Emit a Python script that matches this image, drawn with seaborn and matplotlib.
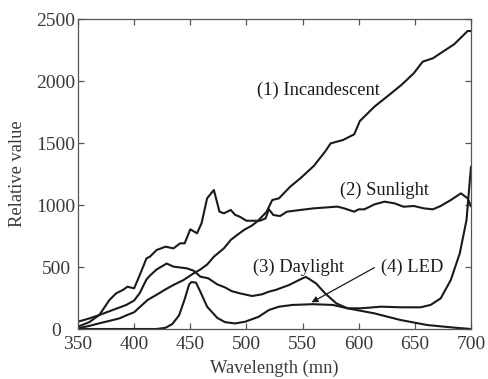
import matplotlib
matplotlib.use("Agg")
import matplotlib.pyplot as plt
import numpy as np
import pandas as pd
import seaborn as sns

# Relative spectral power of four light sources
incandescent_wl = [350, 360, 369, 380, 387, 393, 400, 406, 412, 420, 428, 435, 444, 453, 459,
                   465, 471, 480, 486, 492, 498, 505, 510, 518, 523, 529, 539, 548, 560, 570,
                   575, 586, 596, 601, 614, 627, 638, 649, 657, 666, 675, 685, 697, 700]
incandescent_val = [5, 25, 46, 70, 86, 110, 135, 185, 234, 276, 320, 355, 395, 449, 480,
                    520, 583, 651, 718, 760, 800, 835, 870, 946, 1040, 1054, 1148, 1215, 1315, 1430,
                    1497, 1524, 1570, 1677, 1793, 1887, 1968, 2062, 2156, 2183, 2237, 2296, 2403, 2403]

sunlight_wl = [350, 360, 369, 378, 384, 390, 394, 400, 405, 411, 414, 420, 428, 435, 441,
               445, 450, 456, 460, 465, 471, 476, 480, 486, 490, 494, 500, 512, 517, 520,
               524, 530, 536, 548, 560, 572, 581, 587, 596, 600, 605, 614, 623, 632, 640,
               649, 658, 666, 673, 682, 691, 697, 700]
sunlight_val = [19, 55, 113, 234, 288, 315, 341, 328, 435, 570, 583, 637, 664, 650, 691,
                691, 804, 772, 852, 1054, 1121, 946, 933, 960, 920, 906, 873, 873, 892, 965,
                919, 911, 946, 960, 973, 981, 987, 973, 946, 965, 965, 1005, 1027, 1013, 986,
                992, 973, 965, 992, 1040, 1094, 1054, 990]

daylight_wl = [350, 360, 369, 380, 393, 400, 405, 411, 414, 420, 429, 435, 447, 453, 459,
               466, 474, 481, 487, 494, 505, 514, 520, 526, 538, 550, 553, 562, 570, 580,
               590, 614, 637, 661, 685, 700]
daylight_val = [59, 85, 113, 150, 194, 230, 290, 400, 430, 480, 528, 503, 489, 470, 422,
                409, 360, 335, 305, 288, 266, 280, 301, 315, 355, 409, 420, 368, 288, 207,
                167, 126, 73, 32, 11, 0]

led_wl = [350, 420, 428, 434, 440, 445, 449, 451, 455, 459, 465, 474, 481, 490, 499,
          511, 520, 529, 541, 559, 577, 590, 602, 620, 638, 655, 664, 673, 682, 690,
          696, 700]
led_val = [0, 0, 10, 40, 110, 240, 360, 378, 375, 300, 180, 90, 55, 45, 59,
           99, 153, 180, 194, 200, 194, 167, 167, 180, 175, 175, 194, 247, 395, 610,
           879, 1310]

sources = ["Incandescent", "Sunlight", "Daylight", "LED"]
frames = [
    pd.DataFrame({"wavelength": incandescent_wl, "value": incandescent_val, "source": "Incandescent"}),
    pd.DataFrame({"wavelength": sunlight_wl, "value": sunlight_val, "source": "Sunlight"}),
    pd.DataFrame({"wavelength": daylight_wl, "value": daylight_val, "source": "Daylight"}),
    pd.DataFrame({"wavelength": led_wl, "value": led_val, "source": "LED"}),
]
df = pd.concat(frames, ignore_index=True)

sns.set_style("ticks")
plt.rcParams["font.family"] = ["Liberation Serif", "DejaVu Serif"]

text_color = "#3a3a3a"
frame_color = "#555555"

fig = plt.figure(figsize=(4.89, 3.79), dpi=100)
ax = fig.add_axes([78 / 489, 1 - 329 / 379, (471 - 78) / 489, (329 - 19) / 379])

sns.lineplot(data=df, x="wavelength", y="value", hue="source", hue_order=sources,
             palette=["#1a1a1a"] * 4, linewidth=1.5, legend=False, sort=False,
             estimator=None, ax=ax)

ax.set_xlim(350, 700)
ax.set_ylim(0, 2500)
ax.set_xticks(np.arange(350, 701, 50))
ax.set_yticks(np.arange(0, 2501, 500))
ax.tick_params(direction="in", length=4, width=0.9, top=True, right=True,
               labelsize=14, colors=frame_color, labelcolor=text_color)
ax.tick_params(axis="x", pad=5)
ax.tick_params(axis="y", pad=15.8)
for lbl in ax.get_yticklabels():
    lbl.set_horizontalalignment("center")
for s in ax.spines.values():
    s.set_color(frame_color)
    s.set_linewidth(0.9)

ax.set_xlabel("Wavelength (mn)", fontsize=13.3, color=text_color, labelpad=5)
ax.set_ylabel("Relative value", fontsize=13.3, color=text_color)
ax.yaxis.set_label_coords(-0.132, 0.5)

label_kw = dict(fontsize=13.3, color="#1a1a1a", ha="center", va="center")
ax.text(564, 1927, "(1) Incandescent", **label_kw)
ax.text(623, 1121, "(2) Sunlight", **label_kw)
ax.text(546, 500, "(3) Daylight", **label_kw)
ax.text(648, 500, "(4) LED", **label_kw)
ax.annotate("", xy=(558, 215), xytext=(614, 495),
            arrowprops=dict(arrowstyle="-|>", color="#1a1a1a", lw=0.9,
                            mutation_scale=9, shrinkA=0, shrinkB=0))

fig.savefig("out.png", dpi=100)
